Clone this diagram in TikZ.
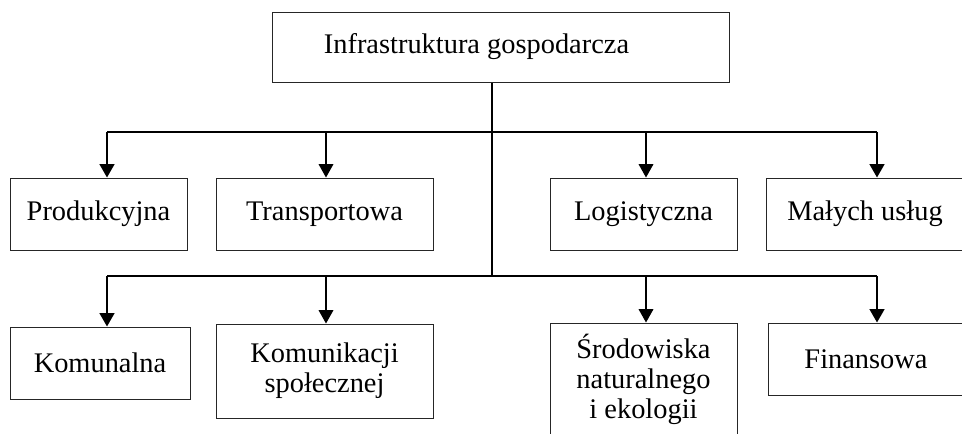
\documentclass[tikz,border=0pt]{standalone}
\usepackage{fontspec}
\setmainfont{Liberation Serif}
\usetikzlibrary{arrows.meta,positioning}

\tikzset{
  box/.style={draw=black!85, line width=0.75pt, inner sep=0pt, align=center,
    font=\fontsize{21.3}{22.5}\selectfont},
  thickline/.style={line width=1.6pt},
  thinline/.style={line width=0.9pt},
  down/.style={-{Triangle[width=11pt,length=10pt]}}
}

\begin{document}
\begin{tikzpicture}[x=0.75pt,y=-0.75pt]
  \useasboundingbox (0,0) rectangle (962,433);
  %top box
  \node [box,minimum width=342.75pt,minimum height=52.5pt] (infra) at (500.5,47)
   {Infrastruktura gospodarcza\hspace*{36pt}};
  %first row
  \node [box,minimum width=132.75pt,minimum height=54pt] (prod) at (98.5,214) {Produkcyjna};
  \node [box,minimum width=162.75pt,minimum height=54pt] (trans) at (324.5,214) {Transportowa};
  \node [box,minimum width=140.25pt,minimum height=54pt] (logi) at (643.5,214) {Logistyczna};
  \node [box,minimum width=148.5pt,minimum height=54pt] (uslugi) at (865,214) {Małych usług};
  %second row
  \node [box,minimum width=135pt,minimum height=54pt] (komun) at (100,363) {Komunalna};
  \node [box,minimum width=162.75pt,minimum height=70.5pt] (spol) at (324.5,371)
   {Komunikacji\\społecznej};
  \node [box,minimum width=140.25pt,minimum height=84pt] (srod) at (643.5,379)
   {Środowiska\\naturalnego\\i ekologii};
  \node [box,minimum width=147pt,minimum height=54pt] (finans) at (866,359) {Finansowa};
  %bus points
  \coordinate (trunk) at (492,132);
  \coordinate (a1) at (107,132);
  \coordinate (a2) at (326,132);
  \coordinate (a3) at (646,132);
  \coordinate (a4) at (877,132);
  \coordinate (trunk2) at (492,276);
  \coordinate (b1) at (107,276);
  \coordinate (b2) at (326,276);
  \coordinate (b3) at (646,276);
  \coordinate (b4) at (877,276);
  %draw trunk and buses
  \draw [thickline] (infra.south -| trunk) -- (trunk2);
  \draw [thickline] (a1) -- (a4);
  \draw [thinline] (b1) -- (b4);
  %draw arrows to first row
  \draw [thickline,down] (a1) -- (a1 |- prod.north);
  \draw [thinline,down] (a2) -- (a2 |- trans.north);
  \draw [thinline,down] (a3) -- (a3 |- logi.north);
  \draw [thickline,down] (a4) -- (a4 |- uslugi.north);
  %draw arrows to second row
  \draw [thickline,down] (b1) -- (b1 |- komun.north);
  \draw [thinline,down] (b2) -- (b2 |- spol.north);
  \draw [thinline,down] (b3) -- (b3 |- srod.north);
  \draw [thickline,down] (b4) -- (b4 |- finans.north);
\end{tikzpicture}
\end{document}
